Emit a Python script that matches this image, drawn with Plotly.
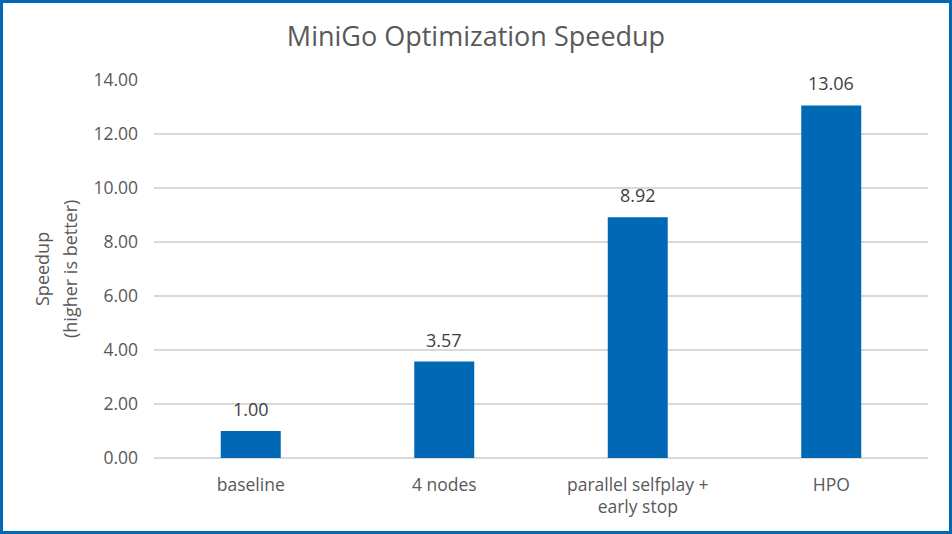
import plotly.graph_objects as go

categories = ["baseline", "4 nodes", "parallel selfplay +<br>early stop", "HPO"]
speedup = [1.00, 3.57, 8.92, 13.06]
tick_vals = [0, 2, 4, 6, 8, 10, 12, 14]
tick_text = ["0.00", "2.00", "4.00", "6.00", "8.00", "10.00", "12.00", "14.00"]
title_text = "MiniGo Optimization Speedup"
ytitle_lines = ["Speedup", "(higher is better)"]

W, H = 952, 534
L, R, T, B = 154, 24, 80, 76
pw, ph = W - L - R, H - T - B
FONT = "Open Sans"
GREY = "#595959"
BLUE = "#0068B5"

fig = go.Figure(go.Bar(
    x=categories, y=speedup,
    marker=dict(color=BLUE, line=dict(width=0)),
    hoverinfo="x+y",
))

# data labels above bars
for c, v in zip(categories, speedup):
    fig.add_annotation(x=c, y=v, text=f"{v:.2f}", showarrow=False,
                       xanchor="center", yanchor="bottom", yshift=8,
                       font=dict(size=18, color="#404040", family=FONT))

# two-line y-axis title
for i, (line, xpx) in enumerate(zip(ytitle_lines, [42, 70])):
    fig.add_annotation(xref="paper", yref="paper", x=(xpx - L) / pw, y=0.5,
                       text=line, textangle=-90, showarrow=False,
                       xanchor="center", yanchor="middle",
                       font=dict(size=18, color=GREY, family=FONT))

fig.update_layout(
    width=W, height=H,
    margin=dict(l=L, r=R, t=T, b=B),
    paper_bgcolor="white", plot_bgcolor="white",
    bargap=0.69,
    showlegend=False,
    title=dict(text=title_text, x=0.5, xanchor="center",
               y=1 - 37 / H, yanchor="middle",
               font=dict(size=27, color=GREY, family=FONT)),
    font=dict(family=FONT, color=GREY),
)
fig.update_yaxes(range=[0, 14], tickvals=tick_vals, ticktext=tick_text,
                 showgrid=True, gridcolor="#D9D9D9", gridwidth=1.5,
                 zeroline=True, zerolinecolor="#D9D9D9", zerolinewidth=1.5,
                 showline=False, ticks="", ticklen=0, ticklabelstandoff=15,
                 tickfont=dict(size=17.5, color=GREY, family=FONT))
fig.update_xaxes(showline=False, ticks="", showgrid=False, ticklabelstandoff=14,
                 tickfont=dict(size=17.5, color=GREY, family=FONT))

fig.add_shape(type="rect", xref="paper", yref="paper",
              x0=(1.5 - L) / pw, x1=(W - 1.5 - L) / pw,
              y0=-(H - 1.5 - T - ph) / ph, y1=1 + (T - 1.5) / ph,
              line=dict(color=BLUE, width=3), fillcolor="rgba(0,0,0,0)", layer="above")

fig.write_html("out.html", config={"displayModeBar": False},
               post_script="document.body.style.margin='0';document.body.style.overflow='hidden';")
